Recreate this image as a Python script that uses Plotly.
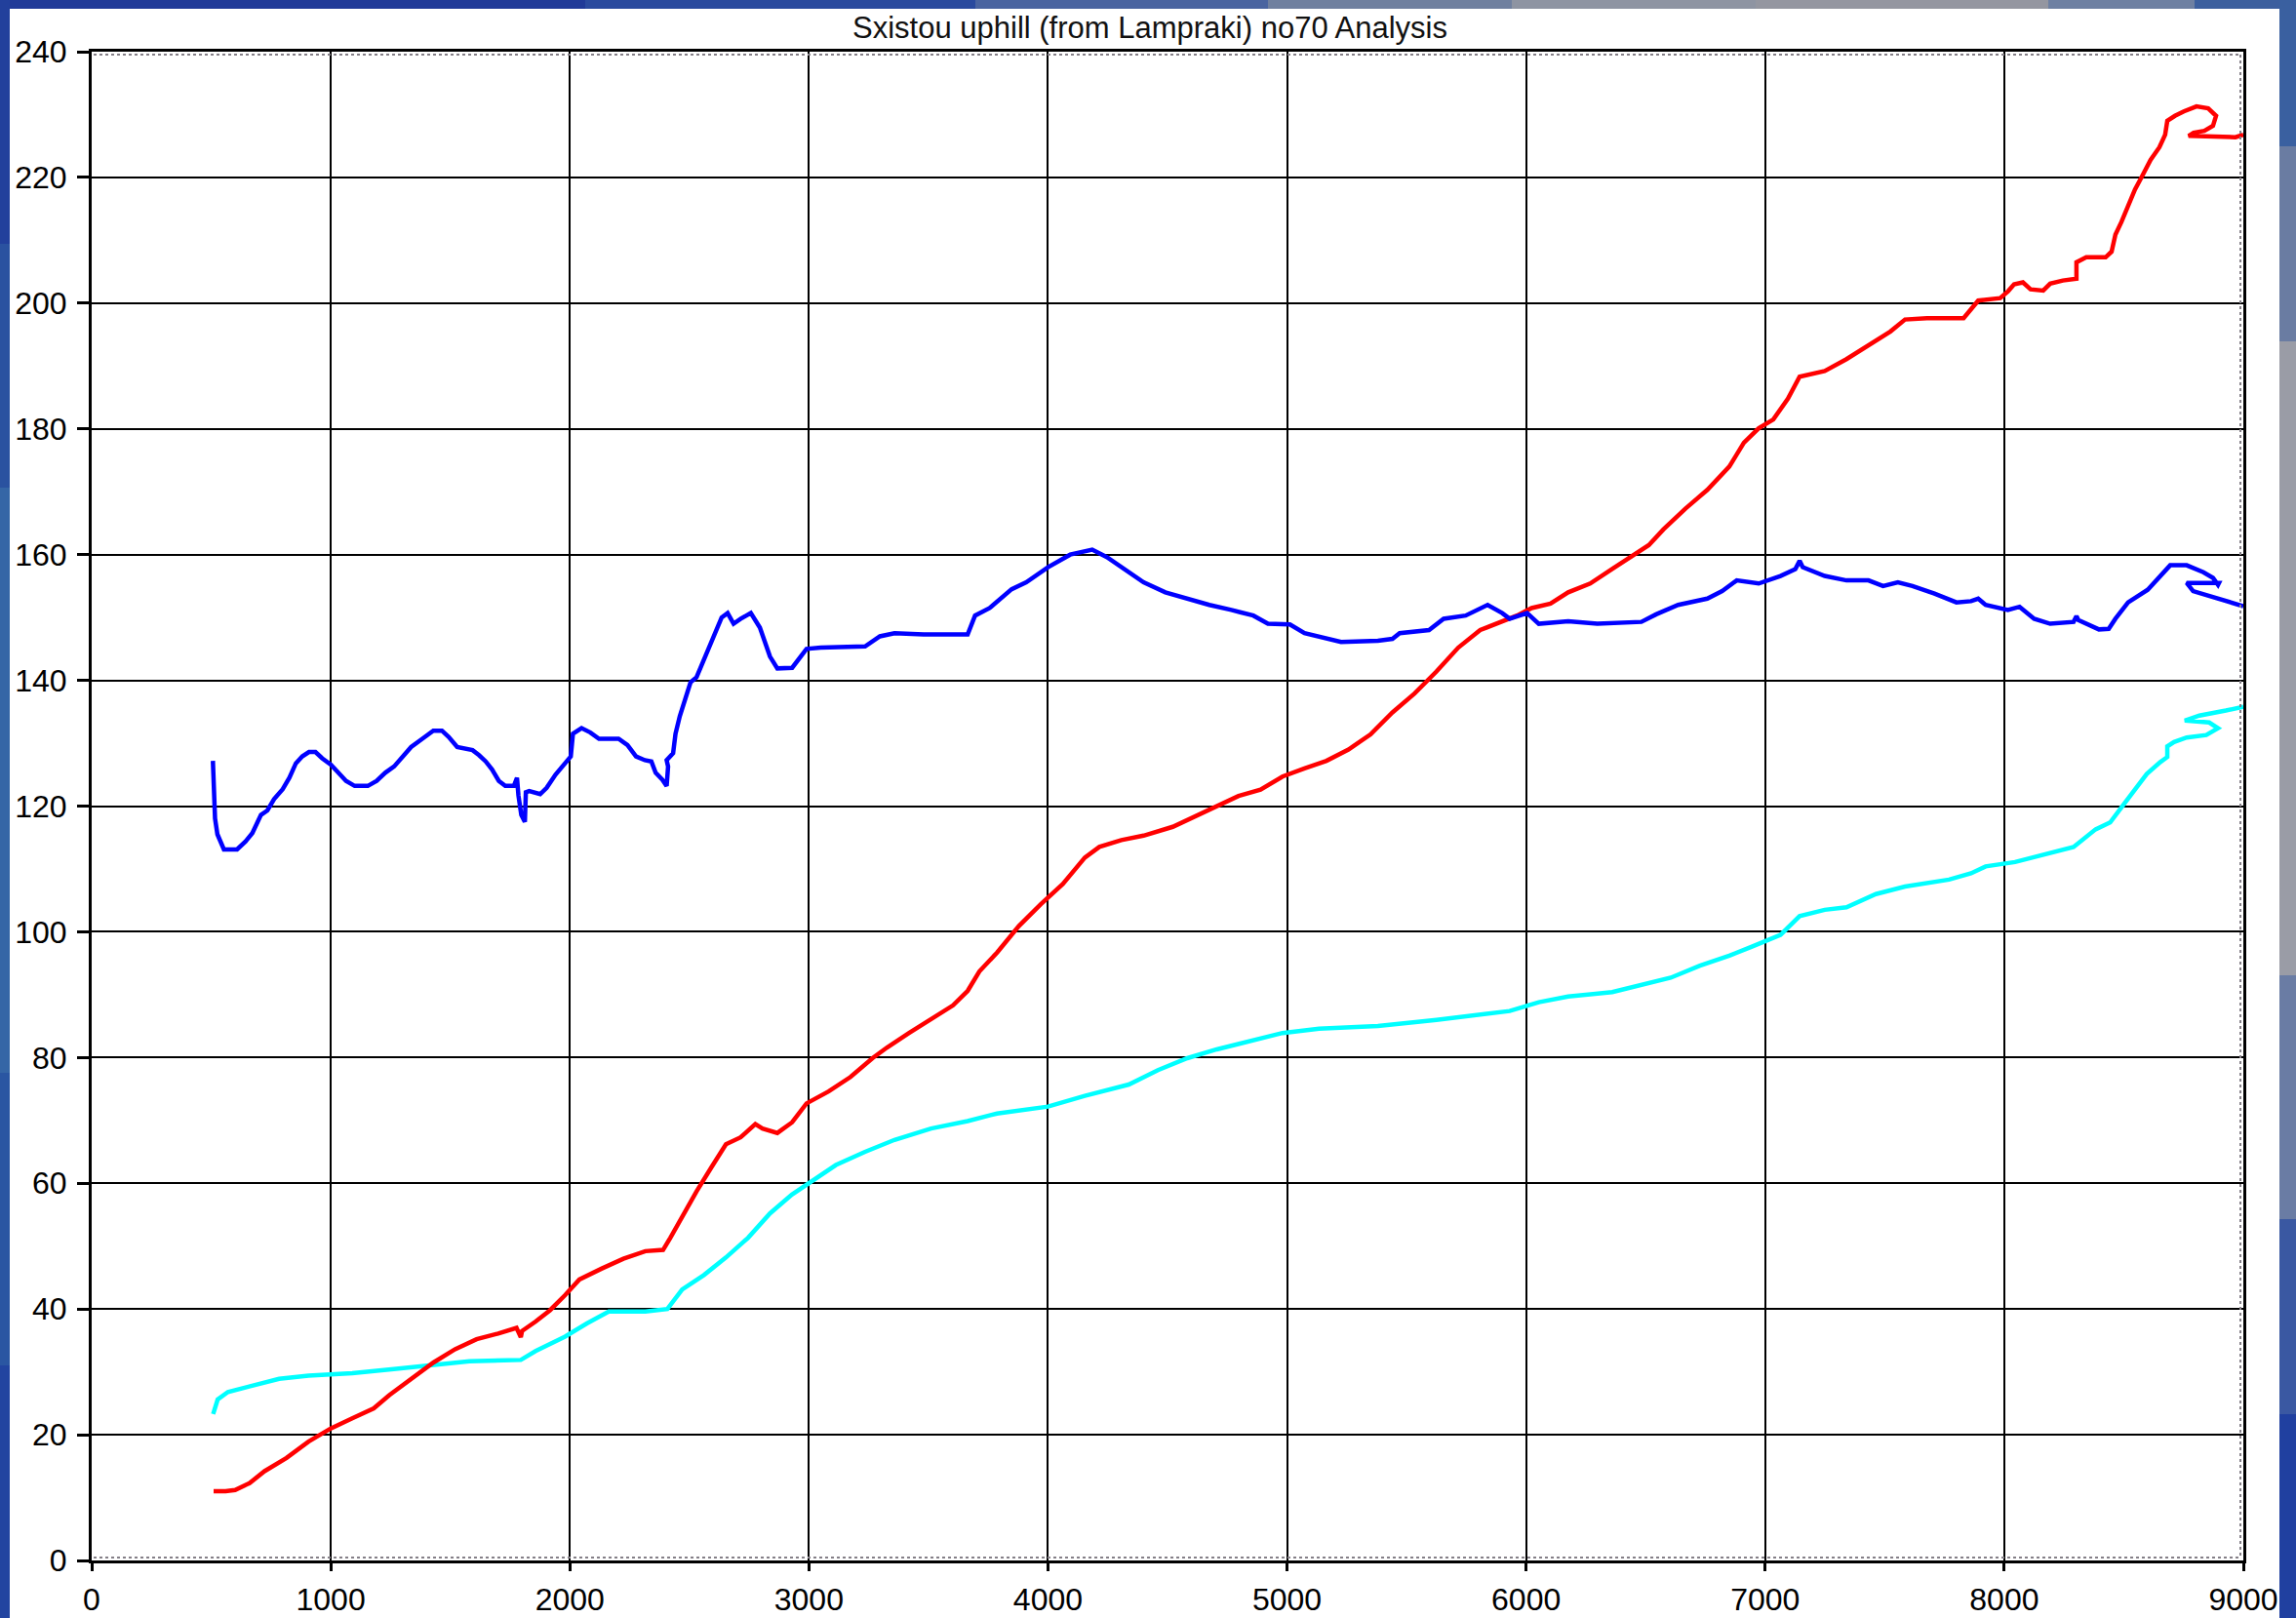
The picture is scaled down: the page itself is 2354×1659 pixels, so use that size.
import plotly.graph_objects as go

title_text = "Sxistou uphill (from Lampraki) no70 Analysis"
x_ticks = [0, 1000, 2000, 3000, 4000, 5000, 6000, 7000, 8000, 9000]
y_ticks = [0, 20, 40, 60, 80, 100, 120, 140, 160, 180, 200, 220, 240]

blue_x = [507, 516, 526, 553, 608, 644, 672, 708, 735, 763, 799, 827, 854, 881, 909, 936, 964, 1000,
          1027, 1064, 1100, 1155, 1192, 1228, 1265, 1301, 1336, 1383, 1429, 1465, 1493, 1529, 1593,
          1620, 1648, 1675, 1703, 1730, 1766, 1779, 1785, 1797, 1812, 1816, 1830, 1876, 1903, 1940,
          1976, 2004, 2013, 2049, 2086, 2122, 2204, 2241, 2277, 2314, 2341, 2359, 2387, 2405, 2411,
          2405, 2432, 2442, 2460, 2478, 2505, 2530, 2590, 2635, 2660, 2685, 2715, 2757, 2795, 2837,
          2868, 2930, 2990, 3050, 3235, 3297, 3358, 3480, 3664, 3695, 3756, 3848, 3909, 4000, 4093,
          4185, 4246, 4338, 4400, 4491, 4583, 4675, 4767, 4859, 4920, 5012, 5073, 5165, 5226, 5380,
          5441, 5471, 5594, 5655, 5747, 5839, 5900, 5931, 6004, 6053, 6176, 6298, 6482, 6544, 6636,
          6758, 6820, 6881, 6973, 7064, 7126, 7144, 7157, 7249, 7340, 7432, 7493, 7555, 7616, 7708,
          7800, 7861, 7891, 7922, 8015, 8064, 8125, 8192, 8290, 8302, 8310, 8396, 8437, 8465, 8518,
          8600, 8653, 8694, 8763, 8833, 8873, 8894, 8898, 8763, 8790, 8845, 8927, 9000]
blue_y = [127.2, 118.0, 115.5, 113.1, 113.1, 114.4, 115.7, 118.6, 119.3, 121.1, 122.7, 124.5, 126.8,
          127.9, 128.6, 128.6, 127.6, 126.6, 125.5, 124.0, 123.2, 123.2, 124.0, 125.3, 126.3, 127.9,
          129.4, 130.7, 132.0, 132.0, 131.0, 129.4, 128.9, 128.1, 127.1, 125.8, 124.0, 123.2, 123.2,
          124.5, 121.7, 118.6, 117.5, 122.2, 122.4, 121.9, 122.9, 125.0, 126.6, 127.9, 131.5, 132.4,
          131.7, 130.7, 130.7, 129.7, 127.9, 127.3, 127.1, 125.3, 124.2, 123.2, 126.3, 127.3, 128.4,
          131.5, 134.3, 136.6, 139.7, 140.5, 146.0, 150.0, 150.7, 149.0, 149.8, 150.7, 148.4, 143.8,
          141.9, 142.0, 145.0, 145.2, 145.4, 147.0, 147.5, 147.3, 147.3, 150.3, 151.5, 154.5, 155.6,
          158.0, 160.0, 160.8, 159.6, 157.3, 155.6, 154.0, 153.0, 152.0, 151.2, 150.3, 149.0, 148.9,
          147.5, 146.6, 146.1, 146.3, 146.6, 147.5, 148.0, 149.8, 150.3, 152.0, 150.7, 149.8, 150.7,
          149.0, 149.4, 149.0, 149.3, 150.5, 152.0, 153.0, 154.2, 155.9, 155.4, 156.6, 157.7, 159.0,
          158.0, 156.6, 155.9, 155.9, 155.0, 155.6, 155.0, 153.8, 152.4, 152.6, 153.0, 152.0, 151.2,
          151.7, 149.8, 149.0, 149.3, 150.2, 149.6, 148.1, 148.2, 149.8, 152.4, 154.4, 156.7, 158.3,
          158.3, 157.2, 156.3, 155.2, 155.5, 155.5, 154.2, 153.6, 152.6, 151.8]

red_x = [510, 560, 600, 660, 723, 815, 907, 1000, 1090, 1180, 1245, 1335, 1430, 1520, 1610, 1700,
         1777, 1795, 1800, 1857, 1917, 1980, 2040, 2132, 2224, 2316, 2390, 2420, 2470, 2530, 2590,
         2653, 2714, 2776, 2806, 2868, 2930, 2990, 3082, 3174, 3266, 3327, 3419, 3511, 3603, 3664,
         3713, 3787, 3878, 3970, 4062, 4154, 4215, 4307, 4400, 4522, 4614, 4706, 4797, 4889, 4981,
         5073, 5165, 5257, 5349, 5441, 5533, 5625, 5716, 5808, 5900, 5962, 6023, 6102, 6176, 6268,
         6360, 6452, 6513, 6574, 6666, 6758, 6850, 6911, 6973, 7034, 7095, 7144, 7249, 7340, 7432,
         7524, 7585, 7677, 7830, 7891, 7983, 8016, 8041, 8078, 8110, 8163, 8192, 8245, 8302, 8302,
         8343, 8424, 8449, 8465, 8490, 8518, 8547, 8571, 8612, 8649, 8673, 8682, 8714, 8751, 8804,
         8853, 8886, 8873, 8837, 8792, 8771, 8967, 9000]
red_y = [11.0, 11.0, 11.2, 12.3, 14.2, 16.3, 18.9, 21.0, 22.6, 24.2, 26.3, 28.9, 31.5, 33.6, 35.2,
         36.1, 37.0, 35.5, 36.5, 38.0, 39.8, 42.2, 44.7, 46.4, 48.0, 49.2, 49.4, 51.3, 54.8, 58.7,
         62.4, 66.2, 67.3, 69.4, 68.7, 68.0, 69.7, 72.7, 74.6, 76.9, 79.9, 81.6, 83.9, 86.0, 88.3,
         90.6, 93.7, 96.7, 100.9, 104.4, 107.6, 111.8, 113.5, 114.6, 115.3, 116.7, 118.4, 120.0,
         121.6, 122.6, 124.7, 126.0, 127.2, 129.0, 131.4, 134.9, 137.9, 141.4, 145.2, 148.0, 149.4,
         150.3, 151.5, 152.2, 154.0, 155.4, 157.7, 160.1, 161.5, 164.0, 167.3, 170.3, 174.0, 177.8,
         180.1, 181.5, 184.8, 188.3, 189.2, 191.1, 193.2, 195.5, 197.4, 197.6, 197.6, 200.4, 200.8,
         201.9, 203.0, 203.3, 202.2, 202.0, 203.1, 203.6, 203.9, 206.5, 207.3, 207.3, 208.2, 210.9,
         212.9, 215.5, 218.1, 219.8, 222.8, 224.8, 226.8, 229.0, 229.8, 230.5, 231.3, 231.0, 229.8,
         228.2, 227.4, 227.1, 226.6, 226.4, 226.8]

cyan_x = [508, 527, 570, 662, 784, 907, 1090, 1274, 1458, 1580, 1795, 1857, 1980, 2071, 2163, 2316,
          2408, 2470, 2561, 2653, 2745, 2837, 2929, 3021, 3113, 3235, 3358, 3511, 3664, 3787, 4000,
          4154, 4338, 4460, 4583, 4706, 4859, 4981, 5134, 5380, 5625, 5808, 5931, 6053, 6176, 6360,
          6482, 6605, 6727, 6850, 6942, 7064, 7144, 7249, 7340, 7463, 7585, 7769, 7861, 7922, 8045,
          8167, 8290, 8382, 8443, 8504, 8596, 8653, 8682, 8682, 8710, 8763, 8845, 8894, 8857, 8755,
          8816, 8927, 9000]
cyan_y = [23.3, 25.6, 26.8, 27.7, 28.9, 29.4, 29.8, 30.5, 31.2, 31.7, 31.9, 33.3, 35.6, 37.7, 39.6,
          39.6, 40.0, 43.1, 45.4, 48.2, 51.3, 55.2, 58.2, 60.6, 62.9, 65.0, 66.9, 68.7, 69.9, 71.1,
          72.2, 73.9, 75.7, 78.0, 79.9, 81.3, 82.7, 83.9, 84.6, 85.0, 86.0, 86.9, 87.4, 88.8, 89.7,
          90.4, 91.6, 92.7, 94.6, 96.2, 97.6, 99.5, 102.5, 103.5, 103.9, 106.0, 107.2, 108.3, 109.3,
          110.4, 111.1, 112.3, 113.5, 116.3, 117.4, 120.5, 125.1, 127.0, 127.8, 129.5, 130.2, 130.9,
          131.3, 132.4, 133.3, 133.6, 134.4, 135.2, 135.8]

W, H = 2354, 1659
L, R, T, B = 94, 54, 53, 59
pw, ph = W - L - R, H - T - B


def px(xp):
    return (xp - L) / pw


def py(yp):
    return (H - B - yp) / ph


def rect(x0, x1, y0, y1, color, layer="below"):
    return dict(type="rect", xref="paper", yref="paper", x0=px(x0), x1=px(x1), y0=py(y1), y1=py(y0),
                fillcolor=color, line=dict(width=0), layer=layer)


fig = go.Figure()
for xs, ys, col in [(cyan_x, cyan_y, "#00FFFF"), (red_x, red_y, "#FF0000"), (blue_x, blue_y, "#0000FF")]:
    fig.add_trace(go.Scatter(x=xs, y=ys, mode="lines", line=dict(color=col, width=4.5),
                             showlegend=False, hoverinfo="skip"))

shapes = []
top_cols = [(0, 600, "#203a98"), (600, 1000, "#2a4a9e"), (1000, 1300, "#4a64a0"), (1300, 1550, "#70809f"),
            (1550, 1800, "#8e94a2"), (1800, 2100, "#9496a0"), (2100, 2250, "#6e80a2"), (2250, 2360, "#3c5f9e")]
for a, b, c in top_cols:
    shapes.append(rect(a, b, -5, 9, c))
left_cols = [(0, 250, "#22409c"), (250, 500, "#2a52a0"), (500, 1100, "#3566a6"), (1100, 1400, "#2a56a2"),
             (1400, 1665, "#2244a0")]
for a, b, c in left_cols:
    shapes.append(rect(-5, 10, a, b, c))
right_cols = [(0, 150, "#3a60a0"), (150, 350, "#6a7ca2"), (350, 1000, "#9a9ca6"), (1000, 1250, "#6a7ca4"),
              (1250, 1450, "#3a58a2"), (1450, 1665, "#2040a0")]
for a, b, c in right_cols:
    shapes.append(rect(2337, 2360, a, b, c))
shapes.append(rect(10, 2337, 9, 1670, "white"))
shapes.append(dict(type="line", xref="paper", yref="paper", x0=px(96), x1=px(2297), y0=py(56), y1=py(56),
                   line=dict(width=2, color="#858088", dash="dot"), layer="above"))
shapes.append(dict(type="line", xref="paper", yref="paper", x0=px(96), x1=px(2297), y0=py(1597), y1=py(1597),
                   line=dict(width=2, color="#858088", dash="dot"), layer="above"))
shapes.append(dict(type="line", xref="paper", yref="paper", x0=px(2297), x1=px(2297), y0=py(56), y1=py(1597),
                   line=dict(width=2, color="#858088", dash="dot"), layer="above"))

fig.update_layout(
    width=W, height=H,
    margin=dict(l=L, r=R, t=T, b=B, autoexpand=False),
    paper_bgcolor="#2a46a0",
    plot_bgcolor="white",
    shapes=shapes,
    font=dict(family="Liberation Sans, Arial, sans-serif", color="black", size=32),
    title=dict(text=title_text, x=1179 / W, xanchor="center", y=1 - 28 / H, yanchor="middle",
               font=dict(size=31, color="#111111"), automargin=False),
)
fig.update_xaxes(range=[0, 9000], tickvals=x_ticks, ticktext=[str(v) for v in x_ticks],
                 showgrid=True, gridcolor="black", gridwidth=2,
                 showline=True, linecolor="black", linewidth=3, mirror=True,
                 ticks="outside", ticklen=8, tickwidth=3, tickcolor="black",
                 ticklabelstandoff=2, zeroline=False, automargin=False)
fig.update_yaxes(range=[0, 240], tickvals=y_ticks, ticktext=[str(v) for v in y_ticks],
                 showgrid=True, gridcolor="black", gridwidth=2,
                 showline=True, linecolor="black", linewidth=3, mirror=True,
                 ticks="outside", ticklen=12, tickwidth=3, tickcolor="black",
                 ticklabelstandoff=4, zeroline=False, automargin=False)

fig.write_html("out.html", config={"displayModeBar": False},
               post_script="document.body.style.margin='0';document.body.style.background='#2a46a0';")
